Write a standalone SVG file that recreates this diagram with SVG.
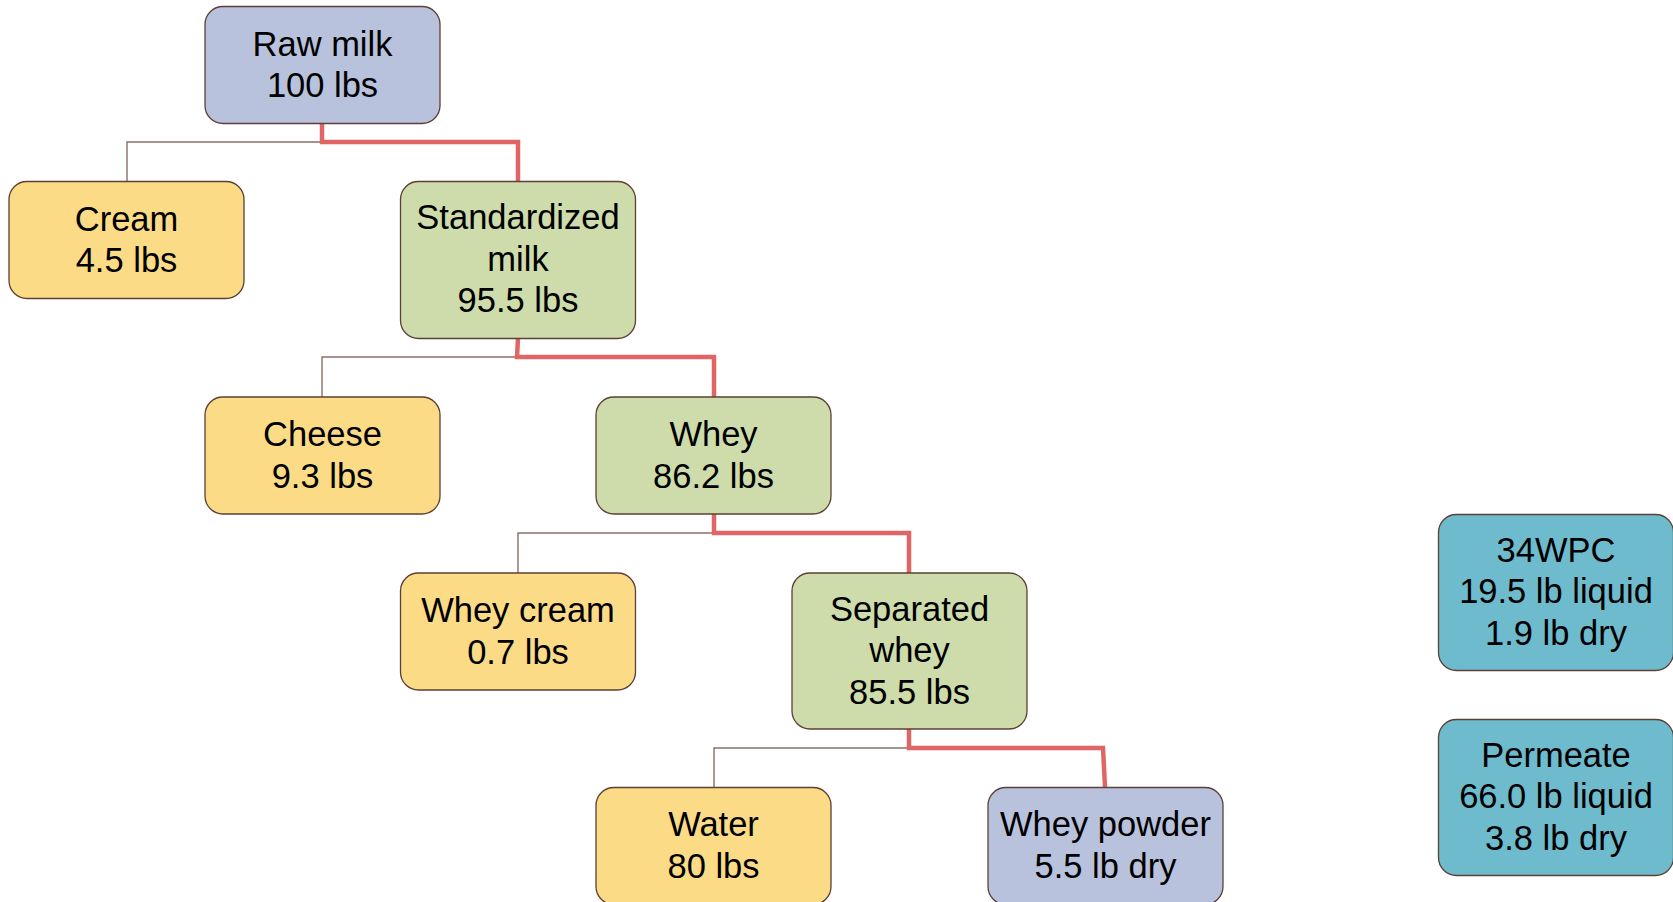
<svg xmlns="http://www.w3.org/2000/svg" width="1673" height="902" viewBox="0 0 1673 902">
<style>
.box{stroke:#5e3f35;stroke-width:1.3}
.blue{fill:#b8c2dc}
.yel{fill:#fcdb86}
.grn{fill:#cddcaa}
.teal{fill:#6dbbcd}
text{font-family:"Liberation Sans",Arial,sans-serif;font-size:34.5px;fill:#000;text-anchor:middle}
.thin{fill:none;stroke:#8a7068;stroke-width:1.4}
.red{fill:none;stroke:#e06666;stroke-width:4.5;stroke-linejoin:miter}
</style>
<rect width="1673" height="902" fill="#ffffff"/>
<g id="connectors">
<path class="thin" d="M322,142 H127 V181"/>
<path class="red" d="M322,123 V142 H518 V181"/>
<path class="thin" d="M517,357 H322 V397"/>
<path class="red" d="M518,338 L517,357 H714 V397"/>
<path class="thin" d="M714,533 H518 V573"/>
<path class="red" d="M714,514 V533 H909 V573"/>
<path class="thin" d="M909,748 H714 V787"/>
<path class="red" d="M909,729 V748 H1103 L1105,787"/>
</g>
<g id="raw-milk"><rect class="box blue" x="205" y="6.5" width="235" height="117" rx="18"/><text x="322.5" y="55.5">Raw milk</text><text x="322.5" y="97">100 lbs</text></g>
<g id="cream"><rect class="box yel" x="9" y="181.5" width="235" height="117" rx="18"/><text x="126.5" y="230.5">Cream</text><text x="126.5" y="272">4.5 lbs</text></g>
<g id="standardized-milk"><rect class="box grn" x="400.5" y="181.5" width="235" height="157" rx="18"/><text x="518" y="229">Standardized</text><text x="518" y="270.5">milk</text><text x="518" y="312">95.5 lbs</text></g>
<g id="cheese"><rect class="box yel" x="205" y="397" width="235" height="117" rx="18"/><text x="322.5" y="446">Cheese</text><text x="322.5" y="487.5">9.3 lbs</text></g>
<g id="whey"><rect class="box grn" x="596" y="397" width="235" height="117" rx="18"/><text x="713.5" y="446">Whey</text><text x="713.5" y="487.5">86.2 lbs</text></g>
<g id="whey-cream"><rect class="box yel" x="400.5" y="573" width="235" height="117" rx="18"/><text x="518" y="622">Whey cream</text><text x="518" y="663.5">0.7 lbs</text></g>
<g id="separated-whey"><rect class="box grn" x="792" y="573" width="235" height="156" rx="18"/><text x="909.5" y="620.5">Separated</text><text x="909.5" y="662">whey</text><text x="909.5" y="703.5">85.5 lbs</text></g>
<g id="water"><rect class="box yel" x="596" y="787.5" width="235" height="117" rx="18"/><text x="713.5" y="836">Water</text><text x="713.5" y="877.5">80 lbs</text></g>
<g id="whey-powder"><rect class="box blue" x="988" y="787.5" width="235" height="117" rx="18"/><text x="1105.5" y="836">Whey powder</text><text x="1105.5" y="877.5">5.5 lb dry</text></g>
<g id="wpc34"><rect class="box teal" x="1438.5" y="514.5" width="235" height="156" rx="18"/><text x="1556" y="561.5">34WPC</text><text x="1556" y="603">19.5 lb liquid</text><text x="1556" y="644.5">1.9 lb dry</text></g>
<g id="permeate"><rect class="box teal" x="1438.5" y="719.5" width="235" height="156" rx="18"/><text x="1556" y="766.5">Permeate</text><text x="1556" y="808">66.0 lb liquid</text><text x="1556" y="849.5">3.8 lb dry</text></g>
</svg>
